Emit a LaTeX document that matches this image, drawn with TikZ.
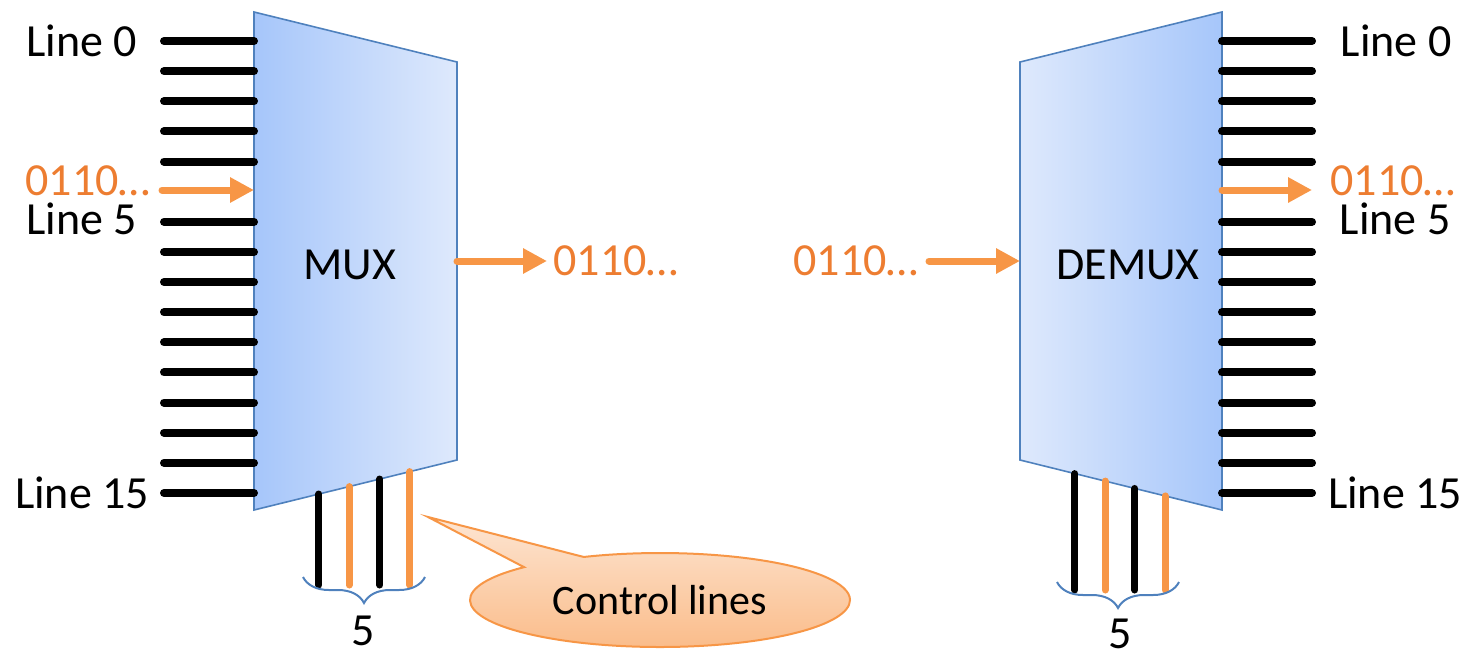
\documentclass[tikz,border=0pt]{standalone}
\usepackage{fontspec}
\setmainfont{Carlito}
\usepackage{tikz}
\usetikzlibrary{arrows.meta,positioning,calc,shapes.callouts,decorations.pathreplacing}
\definecolor{boxblue}{HTML}{4F81BD}
\definecolor{muxdark}{HTML}{A6C6FA}
\definecolor{muxlight}{HTML}{DEE9FC}
\definecolor{sigorange}{HTML}{F79646}
\definecolor{bitorange}{HTML}{ED7D31}
\definecolor{calltop}{HTML}{FDE5D2}
\definecolor{callbot}{HTML}{FABB88}
\tikzstyle{box} = [draw=boxblue, line width=0.8pt]
\tikzstyle{wire} = [draw, line width=4pt, line cap=round]
\tikzstyle{ctrl} = [draw, line width=3.5pt, line cap=round]
\tikzstyle{sig} = [draw=sigorange, line width=3.5pt, line cap=round,
    -{Triangle[length=12pt,width=12pt]}]
\tikzstyle{lbl} = [inner sep=0pt, text=black]
\tikzstyle{bits} = [inner sep=0pt, text=bitorange]
\tikzset{
  grp/.style = {draw=boxblue, line width=1pt, decorate,
    decoration={brace, mirror, amplitude=13pt}}
}

\begin{document}
\begin{tikzpicture}[x=0.5pt, y=-0.5pt, font=\fontsize{23}{28}\selectfont]
   \useasboundingbox (0,0) rectangle (1470,654);
   % mux body
   \coordinate (mtl) at (254,12);
   \coordinate (mtr) at (457,62);
   \coordinate (mbr) at (457,460);
   \coordinate (mbl) at (254,510);
   \path [box, left color=muxdark, right color=muxlight] (mtl) -- (mtr) -- (mbr) -- (mbl) -- cycle;
   \node [lbl] (mux) at (350,265) {MUX};
   % demux body
   \coordinate (dtl) at (1020,62);
   \coordinate (dtr) at (1222,12);
   \coordinate (dbr) at (1222,510);
   \coordinate (dbl) at (1020,460);
   \path [box, left color=muxlight, right color=muxdark] (dtl) -- (dtr) -- (dbr) -- (dbl) -- cycle;
   \node [lbl] (demux) at (1128,265) {DEMUX};
   % sixteen lines on each side
   \foreach \k in {0,...,4,6,7,...,15} {
      \coordinate (in\k) at (164,41+30.13*\k);
      \coordinate (out\k) at (1312,41+30.13*\k);
      \draw [wire] (in\k) -- (in\k -| mtl);
      \draw [wire] (out\k -| dtr) -- (out\k);
   }
   \coordinate (in5) at (162,190);
   \coordinate (out5) at (1312,190);
   \draw [sig] (in5) -- (in5 -| mtl);
   \draw [sig] (out5 -| dtr) -- (out5);
   \node [lbl] (line0) at (82,41) {Line 0};
   \node [bits] (bitsin) at (88,181) {0110…};
   \node [lbl] (line5) at (82,219) {Line 5};
   \node [lbl] (line15) at (82,493) {Line 15};
   \node [lbl] (rline0) at (1396,41) {Line 0};
   \node [bits] (bitsout) at (1393,181) {0110…};
   \node [lbl] (rline5) at (1395,219) {Line 5};
   \node [lbl] (rline15) at (1395,493) {Line 15};
   % shared line
   \coordinate (mout) at ($(mtr)!0.5!(mbr)$);
   \coordinate (mend) at (547,261);
   \draw [sig] (mout) -- (mend);
   \node [bits, right=3pt of mend] (muxbits) {0110…};
   \coordinate (din) at ($(dtl)!0.5!(dbl)$);
   \coordinate (dstart) at (929,261);
   \draw [sig] (dstart) -- (din);
   \node [bits, left=5pt of dstart] (demuxbits) {0110…};
   % control lines
   \coordinate (mbase) at (0,585);
   \foreach \f/\c [count=\i] in {0.32/black,0.468/sigorange,0.62/black,0.768/sigorange} {
      \coordinate (mc\i) at ($(mbl)!\f!(mbr)$);
      \draw [ctrl, color=\c] (mc\i) -- (mc\i |- mbase);
   }
   \coordinate (dbase) at (0,590);
   \foreach \f/\c [count=\i] in {0.272/black,0.421/sigorange,0.569/black,0.718/sigorange} {
      \coordinate (dc\i) at ($(dbl)!\f!(dbr)$);
      \draw [ctrl, color=\c] (dc\i) -- (dc\i |- dbase);
   }
   \coordinate (mgl) at (303,577);
   \coordinate (mgr) at (425,577);
   \draw [grp] (mgl) -- (mgr);
   \node [lbl] (mfive) at (363,631) {5};
   \coordinate (dgl) at (1057,582);
   \coordinate (dgr) at (1179,582);
   \draw [grp] (dgl) -- (dgr);
   \node [lbl] (dfive) at (1120,634) {5};
   % callout
   \node [ellipse callout, draw=sigorange, line width=1pt, top color=calltop,
      bottom color=callbot, minimum width=190pt, minimum height=47pt, inner sep=0pt,
      callout absolute pointer={(428,517)}, callout pointer arc=22,
      font=\fontsize{21}{25}\selectfont] (callout) at (660,600) {Control lines};
\end{tikzpicture}
\end{document}
